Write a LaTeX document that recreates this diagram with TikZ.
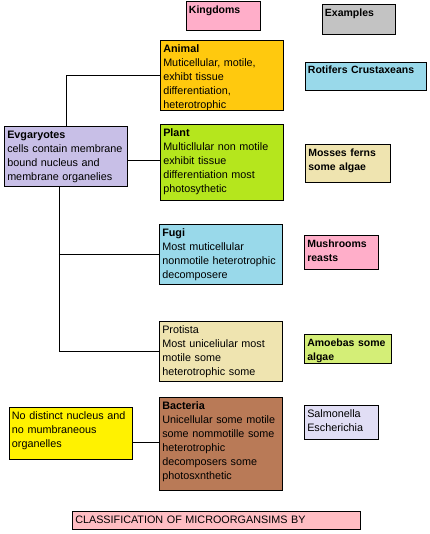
\documentclass[tikz,border=0pt]{standalone}
\usepackage{fontspec}
\setmainfont{Liberation Sans}
\usetikzlibrary{positioning}

\definecolor{rose}{RGB}{255,174,201}
\definecolor{greybox}{RGB}{195,195,195}
\definecolor{gold}{RGB}{255,201,14}
\definecolor{skyblue}{RGB}{153,217,234}
\definecolor{lavender}{RGB}{200,191,231}
\definecolor{limegreen}{RGB}{181,230,29}
\definecolor{beige}{RGB}{239,228,176}
\definecolor{palegreen}{RGB}{212,238,119}
\definecolor{lemon}{RGB}{255,242,0}
\definecolor{brownbox}{RGB}{185,122,87}
\definecolor{palelilac}{RGB}{225,222,245}
\definecolor{salmonpink}{RGB}{255,189,195}

\begin{document}
\begin{tikzpicture}[
    x=1pt, y=-1pt,
    every node/.style={font=\fontsize{10.8}{14}\selectfont},
    box/.style={draw, line width=0.9pt, anchor=north west, align=left,
                inner xsep=2.5pt, inner ysep=3.5pt, text height=8.2pt},
    exbox/.style={box, font=\fontsize{10.5}{14.5}\selectfont\bfseries},
    link/.style={line width=0.9pt},
  ]
  \useasboundingbox (0,0) rectangle (429,534);
  % column heads
  \node[exbox, fill=rose, text width=69pt, text depth=13.8pt] (kingdoms) at (186,1) {Kingdoms};
  \node[exbox, fill=greybox, text width=68.4pt, text depth=14.8pt] (examples) at (322,4.3) {Examples};
  % kingdoms
  \node[box, fill=gold, text width=117.4pt, text depth=54.8pt] (animal) at (160.3,40.3)
    {\textbf{Animal}\\Muticellular, motile,\\exhibt tissue\\differentiation,\\heterotrophic};
  \node[box, fill=limegreen, text width=117.4pt, text depth=60.8pt] (plant) at (160.3,124.3)
    {\textbf{Plant}\\Multicllular non motile\\exhibit tissue\\differentiation most\\photosythetic};
  \node[box, fill=skyblue, text width=117.4pt, text depth=44.8pt] (fugi) at (159.3,224.3)
    {\textbf{Fugi}\\Most muticellular\\nonmotile heterotrophic\\decomposere};
  \node[box, fill=beige, text width=117.4pt, text depth=45.1pt] (protista) at (159.3,321)
    {Protista\\Most uniceliular most\\motile some\\heterotrophic some};
  \node[box, fill=brownbox, text width=117.4pt, text depth=77.8pt] (bacteria) at (159.3,397.3)
    {\textbf{Bacteria}\\Unicellular some motile\\some nommotille some\\heterotrophic\\decomposers some\\photosxnthetic};
  % cell types
  \node[box, fill=lavender, text width=117.4pt, text depth=44.8pt] (evg) at (4.3,126)
    {\textbf{Evgaryotes}\\cells contain membrane\\bound nucleus and\\membrane organelies};
  \node[box, fill=lemon, text width=117.7pt, text depth=36.2pt] (nonuc) at (9,407.3)
    {No distinct nucleus and\\no mumbraneous\\organelles};
  % examples
  \node[exbox, fill=skyblue, text width=116.3pt, text depth=13.1pt] (rotifers) at (305,61.7)
    {Rotifers Crustaxeans};
  \node[exbox, fill=beige, text width=80pt, text depth=22.8pt] (mosses) at (305.3,144.3)
    {Mosses ferns\\some algae};
  \node[exbox, fill=rose, text width=68.4pt, text depth=18.8pt] (mushrooms) at (304.3,235.3)
    {Mushrooms\\reasts};
  \node[exbox, fill=palegreen, text width=82pt, text depth=13.2pt] (amoebas) at (304.3,334.3)
    {Amoebas some\\algae};
  \node[box, fill=palelilac, text width=68.4pt, text depth=18.5pt] (salmonella) at (304.3,405)
    {Salmonella\\Escherichia};
  % title
  \node[box, fill=salmonpink, text width=282.4pt, text depth=3.1pt] (title) at (72.3,511)
    {CLASSIFICATION OF MICROORGANSIMS BY};
  % connectors
  \coordinate (trunk) at ([xshift=-7pt]evg.south);
  \draw[link] (evg.north) |- (animal.west);
  \draw[link] ([yshift=2pt]plant.west -| evg.east) -- ([yshift=2pt]plant.west);
  \draw[link] (trunk) |- (protista.west);
  \draw[link] (fugi.west -| trunk) -- (fugi.west);
  \draw[link] ([yshift=2pt]bacteria.west -| nonuc.east) -- ([yshift=2pt]bacteria.west);
\end{tikzpicture}
\end{document}
